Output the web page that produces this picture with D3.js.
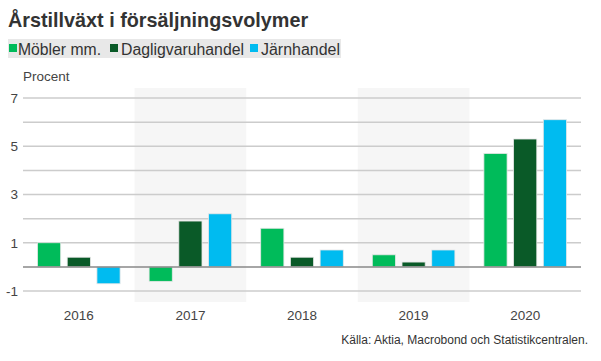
<!DOCTYPE html>
<html><head><meta charset="utf-8">
<script src="https://cdn.jsdelivr.net/npm/d3@7"></script>
<style>body{margin:0;background:#fff;font-family:Arial,"Liberation Sans",sans-serif;}</style>
</head><body>
<svg id="c" width="601" height="361"></svg>
<script>
const years = ["2016","2017","2018","2019","2020"];
const seriesNames = ["Möbler mm.","Dagligvaruhandel","Järnhandel"];
const mobler = [1.0,-0.6,1.6,0.5,4.7];
const dagligvaru = [0.4,1.9,0.4,0.2,5.3];
const jarnhandel = [-0.7,2.2,0.7,0.7,6.1];
const colors = ["#00bb5a","#0a5a28","#00bbf0"];
const yTicks = [-1,1,3,5,7];
const gridValues = [-1,0,1,2,3,4,5,6,7];
const title = "Årstillväxt i försäljningsvolymer";
const yTitle = "Procent";
const source = "Källa: Aktia, Macrobond och Statistikcentralen.";

const svg = d3.select("#c");
const x = d3.scaleBand().domain(years).range([23,581]);
const y = d3.scaleLinear().domain([-1,7]).range([291,98]);
const x1 = d3.scaleBand().domain(seriesNames).range([14.5, x.bandwidth()-14.5]).paddingInner(0.22);

// shaded bands
svg.selectAll("rect.band").data(years.filter((d,i)=>i%2===1)).enter().append("rect")
  .attr("x", d=>x(d)).attr("width", x.bandwidth()).attr("y", 88).attr("height", 302-88)
  .attr("fill","#f6f6f6");

// gridlines
svg.selectAll("line.grid").data(gridValues.filter(v=>v!==0)).enter().append("line")
  .attr("x1",23).attr("x2",581).attr("y1",d=>y(d)).attr("y2",d=>y(d))
  .attr("stroke","#cccccc").attr("stroke-width",1.5);

// y labels
const yAxis = d3.axisLeft(y).tickValues(yTicks).tickSize(0).tickPadding(0).tickFormat(d=>String(d));
const ya = svg.append("g").attr("transform","translate(18,0)").call(yAxis);
ya.select(".domain").remove();
ya.selectAll("text").attr("font-size",13.5).attr("fill","#444").attr("font-family","Arial,'Liberation Sans',sans-serif");

// bars
const data = years.map((yr,i)=>({yr, vals:[mobler[i],dagligvaru[i],jarnhandel[i]]}));
const g = svg.selectAll("g.grp").data(data).enter().append("g").attr("transform",d=>`translate(${x(d.yr)},0)`);
g.selectAll("rect").data(d=>d.vals.map((v,j)=>({v,s:seriesNames[j],j}))).enter().append("rect")
  .attr("x",d=>x1(d.s)).attr("width",x1.bandwidth())
  .attr("y",d=>y(Math.max(0,d.v))).attr("height",d=>Math.abs(y(d.v)-y(0)))
  .attr("fill",d=>colors[d.j]).attr("stroke","#e6e6e6").attr("stroke-width",0.8);

// zero line
svg.append("line").attr("x1",23).attr("x2",581).attr("y1",y(0)).attr("y2",y(0))
  .attr("stroke","#888").attr("stroke-width",1.5);

// x axis labels
const xAxis = d3.axisBottom(x).tickSize(0).tickPadding(0);
const xa = svg.append("g").attr("transform","translate(0,310)").call(xAxis);
xa.select(".domain").remove();
xa.selectAll("text").attr("font-size",13.5).attr("fill","#444").attr("font-family","Arial,'Liberation Sans',sans-serif");

// title
svg.append("text").attr("x",8).attr("y",27).text(title)
  .attr("font-size",19.8).attr("font-weight","bold").attr("fill","#333");

// legend
svg.append("rect").attr("x",8).attr("y",39).attr("width",333).attr("height",19).attr("fill","#e8e8e8");
const legSq = [9,110,250];
const legTx = [18,121,261];
seriesNames.forEach((n,i)=>{
  svg.append("rect").attr("x",legSq[i]).attr("y",44).attr("width",8).attr("height",8).attr("fill",colors[i]);
  svg.append("text").attr("x",legTx[i]).attr("y",54.5).text(n).attr("font-size",16).attr("fill","#333")
    .attr("textLength", [83,123,79][i]).attr("lengthAdjust","spacingAndGlyphs");
});

svg.append("text").attr("x",23).attr("y",81).text(yTitle).attr("font-size",13.5).attr("fill","#444");
svg.append("text").attr("x",588).attr("y",344).attr("text-anchor","end").text(source).attr("font-size",12).attr("fill","#333");
</script>
</body></html>
